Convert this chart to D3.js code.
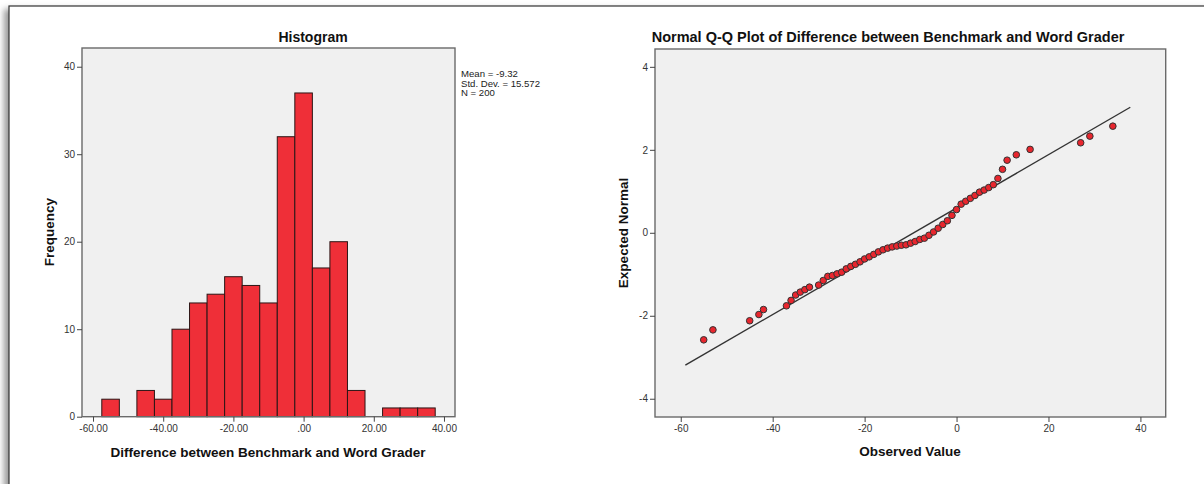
<!DOCTYPE html>
<html>
<head>
<meta charset="utf-8">
<script src="https://cdn.jsdelivr.net/npm/d3@7"></script>
<style>
  body { margin: 0; background: #fff; }
  svg { display: block; font-family: Arial, "Liberation Sans", sans-serif; }
  .tick text { fill: #333; font-size: 10px; }
  .tick line { stroke: #444; }
</style>
</head>
<body>
<div id="chart"></div>
<script>
// histogram bins (width 5) and frequencies
const binStarts = [-57.5, -52.5, -47.5, -42.5, -37.5, -32.5, -27.5, -22.5, -17.5, -12.5, -7.5, -2.5, 2.5, 7.5, 12.5, 17.5, 22.5, 27.5, 32.5];
const binEnds   = [-52.5, -47.5, -42.5, -37.5, -32.5, -27.5, -22.5, -17.5, -12.5, -7.5, -2.5, 2.5, 7.5, 12.5, 17.5, 22.5, 27.5, 32.5, 37.5];
const binCounts = [2, 0, 3, 2, 10, 13, 14, 16, 15, 13, 32, 37, 17, 20, 3, 0, 1, 1, 1];

const histXTicks = [-60, -40, -20, 0, 20, 40];
const histXLabels = ['-60.00', '-40.00', '-20.00', '.00', '20.00', '40.00'];
const histYTicks = [0, 10, 20, 30, 40];
const statLines = ['Mean = -9.32', 'Std. Dev. = 15.572', 'N = 200'];
const mean = -9.32;
const stdDev = 15.572;

// Q-Q plot points
const qqObserved = [-55, -53, -45, -43, -42, -37, -36, -35, -34, -33, -32, -30, -29, -28, -27, -26, -25, -24, -23, -22, -21, -20, -19, -18, -17, -16, -15, -14, -13, -12, -11, -10, -9, -8, -7, -6, -5, -4, -3, -2, -1, 0, 1, 2, 3, 4, 5, 6, 7, 8, 9, 10, 11, 13, 16, 27, 29, 34];
const qqExpected = [-2.58, -2.34, -2.12, -1.97, -1.85, -1.76, -1.63, -1.50, -1.43, -1.37, -1.31, -1.26, -1.15, -1.05, -1.03, -0.99, -0.95, -0.87, -0.81, -0.76, -0.70, -0.63, -0.58, -0.52, -0.46, -0.41, -0.37, -0.34, -0.32, -0.30, -0.29, -0.25, -0.21, -0.16, -0.13, -0.06, 0.02, 0.11, 0.20, 0.29, 0.42, 0.56, 0.69, 0.76, 0.83, 0.90, 0.98, 1.03, 1.09, 1.16, 1.31, 1.53, 1.75, 1.88, 2.01, 2.17, 2.33, 2.57];
const qqLineX = [-59, 37.8];
const qqXTicks = [-60, -40, -20, 0, 20, 40];
const qqYTicks = [-4, -2, 0, 2, 4];

var width = 1204;
var height = 484;

var svg = d3.select('#chart').append('svg')
    .attr('width', width)
    .attr('height', height);

// outer frame with a soft shadow
var defs = svg.append('defs');
defs.append('filter').attr('id', 'blur')
    .attr('x', '-10%').attr('y', '-10%').attr('width', '120%').attr('height', '120%')
    .append('feGaussianBlur').attr('stdDeviation', 3);
svg.append('rect')
    .attr('x', 4).attr('y', 9).attr('width', 1220).attr('height', 500)
    .attr('fill', '#999').attr('filter', 'url(#blur)');
svg.append('rect')
    .attr('x', 9).attr('y', 6).attr('width', 1220).attr('height', 500)
    .attr('fill', '#fff').attr('stroke', '#333').attr('stroke-width', 1.2);

function plotFrame(x0, y0, x1, y1) {
    svg.append('rect')
        .attr('x', x0).attr('y', y0)
        .attr('width', x1 - x0).attr('height', y1 - y0)
        .attr('fill', '#f0f0f0');
}
function plotBorder(x0, y0, x1, y1) {
    svg.append('rect')
        .attr('x', x0).attr('y', y0)
        .attr('width', x1 - x0).attr('height', y1 - y0)
        .attr('fill', 'none')
        .attr('stroke', '#6a6a6a')
        .attr('stroke-width', 1.4);
}
// plain hyphen for negatives, like the original
var plain = d => String(d);

// ---------- Histogram ----------
var hx = d3.scaleLinear().domain([-63.14, 43.14]).range([82, 455]);
var hy = d3.scaleLinear().domain([0, 42.14]).range([416.7, 48]);

plotFrame(82, 48, 455, 416.7);

var bins = binCounts.map((c, i) => ({ x0: binStarts[i], x1: binEnds[i], count: c }));
svg.append('g').selectAll('rect')
    .data(bins.filter(d => d.count > 0))
    .enter()
    .append('rect')
    .attr('x', d => hx(d.x0))
    .attr('width', d => hx(d.x1) - hx(d.x0))
    .attr('y', d => hy(d.count))
    .attr('height', d => hy(0) - hy(d.count))
    .attr('fill', '#ef2f38')
    .attr('stroke', '#2b1616')
    .attr('stroke-width', 1);

plotBorder(82, 48, 455, 416.7);

svg.append('g')
    .attr('transform', 'translate(0,416.7)')
    .call(d3.axisBottom(hx).tickValues(histXTicks)
        .tickFormat((d, i) => histXLabels[i]).tickSize(5).tickPadding(3))
    .call(g => g.select('.domain').remove());

svg.append('g')
    .attr('transform', 'translate(82,0)')
    .call(d3.axisLeft(hy).tickValues(histYTicks).tickFormat(plain).tickSize(5).tickPadding(2))
    .call(g => g.select('.domain').remove());

svg.append('text')
    .attr('x', 313).attr('y', 42)
    .attr('text-anchor', 'middle')
    .attr('font-size', '14px').attr('font-weight', 'bold').attr('fill', '#111')
    .text('Histogram');

svg.append('text')
    .attr('x', 268).attr('y', 457)
    .attr('text-anchor', 'middle')
    .attr('font-size', '13.5px').attr('font-weight', 'bold').attr('fill', '#111')
    .text('Difference between Benchmark and Word Grader');

svg.append('text')
    .attr('transform', 'translate(54,232) rotate(-90)')
    .attr('text-anchor', 'middle')
    .attr('font-size', '13.5px').attr('font-weight', 'bold').attr('fill', '#111')
    .text('Frequency');

svg.append('g').selectAll('text')
    .data(statLines)
    .enter()
    .append('text')
    .attr('x', 461)
    .attr('y', (d, i) => 77 + i * 9.6)
    .attr('font-size', '9.6px').attr('fill', '#222')
    .text(d => d);

// ---------- Normal Q-Q plot ----------
var qx = d3.scaleLinear().domain([-65.6, 45.5]).range([655, 1165.7]);
var qy = d3.scaleLinear().domain([-4.44, 4.43]).range([417, 49]);

plotFrame(655, 49, 1165.7, 417);

svg.append('line')
    .attr('x1', qx(qqLineX[0])).attr('y1', qy((qqLineX[0] - mean) / stdDev))
    .attr('x2', qx(qqLineX[1])).attr('y2', qy((qqLineX[1] - mean) / stdDev))
    .attr('stroke', '#333').attr('stroke-width', 1.4);

svg.append('g').selectAll('circle')
    .data(qqObserved.map((v, i) => ({ x: v, y: qqExpected[i] })))
    .enter()
    .append('circle')
    .attr('cx', d => qx(d.x))
    .attr('cy', d => qy(d.y))
    .attr('r', 3.3)
    .attr('fill', '#e8262e')
    .attr('stroke', '#333')
    .attr('stroke-width', 1);

plotBorder(655, 49, 1165.7, 417);

svg.append('g')
    .attr('transform', 'translate(0,417)')
    .call(d3.axisBottom(qx).tickValues(qqXTicks).tickFormat(plain).tickSize(5).tickPadding(3))
    .call(g => g.select('.domain').remove());

svg.append('g')
    .attr('transform', 'translate(655,0)')
    .call(d3.axisLeft(qy).tickValues(qqYTicks).tickFormat(plain).tickSize(5).tickPadding(2))
    .call(g => g.select('.domain').remove());

svg.append('text')
    .attr('x', 888).attr('y', 42)
    .attr('text-anchor', 'middle')
    .attr('font-size', '14.5px').attr('font-weight', 'bold').attr('fill', '#111')
    .text('Normal Q-Q Plot of Difference between Benchmark and Word Grader');

svg.append('text')
    .attr('x', 910).attr('y', 456)
    .attr('text-anchor', 'middle')
    .attr('font-size', '13.5px').attr('font-weight', 'bold').attr('fill', '#111')
    .text('Observed Value');

svg.append('text')
    .attr('transform', 'translate(628,233) rotate(-90)')
    .attr('text-anchor', 'middle')
    .attr('font-size', '13.5px').attr('font-weight', 'bold').attr('fill', '#111')
    .text('Expected Normal');
</script>
</body>
</html>
